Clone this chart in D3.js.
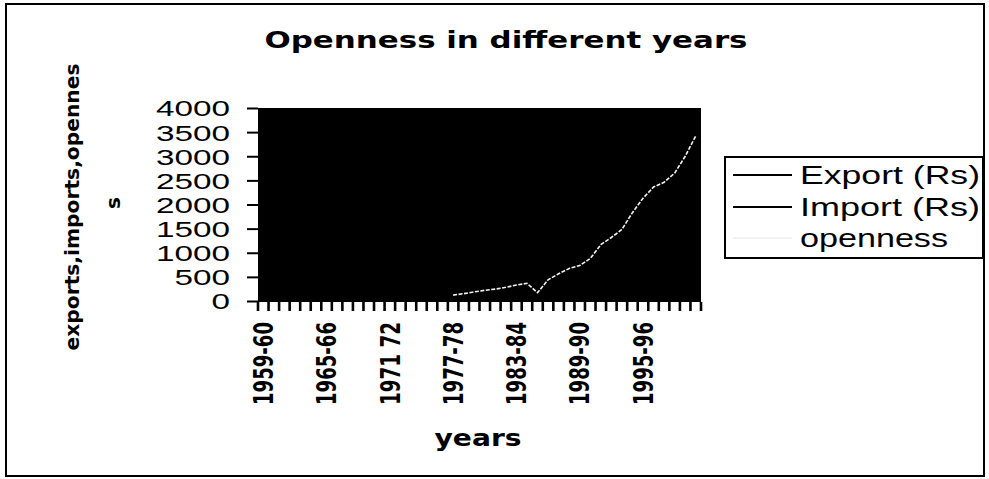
<!DOCTYPE html>
<html>
<head>
<meta charset="utf-8">
<script src="https://cdn.jsdelivr.net/npm/d3@7"></script>
<style>
  html, body { margin: 0; padding: 0; background: #fff; }
  svg { display: block; }
</style>
</head>
<body>
<svg id="chart" width="989" height="479"></svg>
<script>
const categories = [
  "1959-60","1960-61","1961-62","1962-63","1963-64","1964-65",
  "1965-66","1966-67","1967-68","1968-69","1969-70","1970-71",
  "1971 72","1972-73","1973-74","1974-75","1975-76","1976-77",
  "1977-78","1978-79","1979-80","1980-81","1981-82","1982-83",
  "1983-84","1984-85","1985-86","1986-87","1987-88","1988-89",
  "1989-90","1990-91","1991-92","1992-93","1993-94","1994-95",
  "1995-96","1996-97","1997-98","1998-99","1999-00","2000-01"
];
const openness = [
  null,null,null,null,null,null,null,null,null,null,null,null,
  null,null,null,null,null,null,
  122,152,190,221,247,284,330,367,172,438,565,673,735,880,
  1167,1316,1484,1831,2130,2362,2460,2650,3000,3420
];
const yTicks = [0,500,1000,1500,2000,2500,3000,3500,4000];
const legendLabels = ["Export (Rs)","Import (Rs)","openness"];
const legendColors = ["#000000","#000000","#f2f2f2"];
const titleText = "Openness in different years";
const yTitleLines = ["exports,imports,opennes","s"];
const xTitle = "years";

const svg = d3.select("#chart");
const plot = {left: 258, right: 701, top: 108, bottom: 302};
const fmt = d3.format("d");

// outer border
svg.append("rect").attr("x",6).attr("y",4).attr("width",978).attr("height",472)
  .attr("fill","#fff").attr("stroke","#000").attr("stroke-width",2);

const x = d3.scaleBand().domain(categories).range([plot.left, plot.right]).padding(0);
const y = d3.scaleLinear().domain([0,4000]).range([plot.bottom-1, plot.top]);

// plot area
svg.append("rect").attr("x",plot.left).attr("y",plot.top)
  .attr("width",plot.right-plot.left).attr("height",plot.bottom-plot.top)
  .attr("fill","#000");

// y axis
const yAxis = d3.axisLeft(y).tickValues(yTicks).tickFormat(fmt).tickSize(11).tickPadding(0);
const yg = svg.append("g").attr("transform",`translate(${plot.left},0)`).call(yAxis);
yg.select(".domain").remove();
yg.selectAll(".tick line").attr("stroke","#000").attr("stroke-width",2);
yg.selectAll(".tick text")
  .attr("x",-28).attr("dy","0.36em")
  .style("font-family","'Liberation Sans', Arial, sans-serif")
  .style("font-size","22px").attr("fill","#000")
  .attr("text-anchor","end")
  .attr("textLength", d => fmt(d).length*18.5)
  .attr("lengthAdjust","spacingAndGlyphs");

// x tick marks at category boundaries
const bounds = d3.range(categories.length+1).map(i => plot.left + i*x.step());
svg.append("g").selectAll("line").data(bounds).join("line")
  .attr("x1",d=>d).attr("x2",d=>d)
  .attr("y1",plot.bottom).attr("y2",plot.bottom+9)
  .attr("stroke","#000").attr("stroke-width",2.6);

// x labels
const xAxis = d3.axisBottom(x)
  .tickValues(categories.filter((d,i)=>i%6===0))
  .tickSize(0).tickPadding(0);
const xg = svg.append("g").attr("transform",`translate(0,${plot.bottom})`).call(xAxis);
xg.select(".domain").remove();
xg.selectAll(".tick text")
  .attr("transform","rotate(-90)")
  .attr("x",-20).attr("y",0).attr("dy","0.36em")
  .attr("text-anchor","end")
  .style("font-family","'Liberation Sans Narrow','DejaVu Sans Condensed', sans-serif")
  .style("font-weight","bold")
  .style("font-size","27px").attr("fill","#000")
  .attr("textLength",83).attr("lengthAdjust","spacingAndGlyphs");

// openness line
const line = d3.line()
  .defined(d => d != null)
  .x((d,i) => x(categories[i]) + x.bandwidth()/2)
  .y(d => y(d));
svg.append("path").datum(openness)
  .attr("d",line).attr("fill","none")
  .attr("stroke",legendColors[2]).attr("stroke-width",1.6)
  .attr("stroke-dasharray","4,1.5");

// title
svg.append("text").attr("x",506).attr("y",48).attr("text-anchor","middle")
  .style("font-family","'DejaVu Sans', sans-serif").style("font-weight","bold")
  .style("font-size","23px").attr("textLength",483).attr("lengthAdjust","spacingAndGlyphs")
  .text(titleText);

// y title
const yt = svg.append("g");
yt.append("text").attr("transform","translate(72,207) rotate(-90)")
  .attr("text-anchor","middle").attr("dy","0.36em")
  .style("font-family","'DejaVu Sans', sans-serif").style("font-weight","bold")
  .style("font-size","20px").attr("textLength",287).attr("lengthAdjust","spacingAndGlyphs")
  .text(yTitleLines[0]);
yt.append("text").attr("transform","translate(113,203) rotate(-90)")
  .attr("text-anchor","middle").attr("dy","0.36em")
  .style("font-family","'DejaVu Sans', sans-serif").style("font-weight","bold")
  .style("font-size","20px")
  .text(yTitleLines[1]);

// x title
svg.append("text").attr("x",478).attr("y",446).attr("text-anchor","middle")
  .style("font-family","'DejaVu Sans', sans-serif").style("font-weight","bold")
  .style("font-size","23px").attr("textLength",87).attr("lengthAdjust","spacingAndGlyphs")
  .text(xTitle);

// legend
const lg = svg.append("g");
lg.append("rect").attr("x",725).attr("y",157).attr("width",258).attr("height",101)
  .attr("fill","#fff").attr("stroke","#000").attr("stroke-width",2);
const legY = [175,207,238];
const legW = [180,180,148];
legendLabels.forEach((lab,i) => {
  lg.append("line").attr("x1",733).attr("x2",792).attr("y1",legY[i]).attr("y2",legY[i])
    .attr("stroke",legendColors[i]).attr("stroke-width",2);
  lg.append("text").attr("x",800).attr("y",legY[i]).attr("dy","0.36em")
    .style("font-family","'Liberation Sans', Arial, sans-serif")
    .style("font-size","26px").attr("fill","#000")
    .attr("textLength",legW[i]).attr("lengthAdjust","spacingAndGlyphs")
    .text(lab);
});
</script>
</body>
</html>
